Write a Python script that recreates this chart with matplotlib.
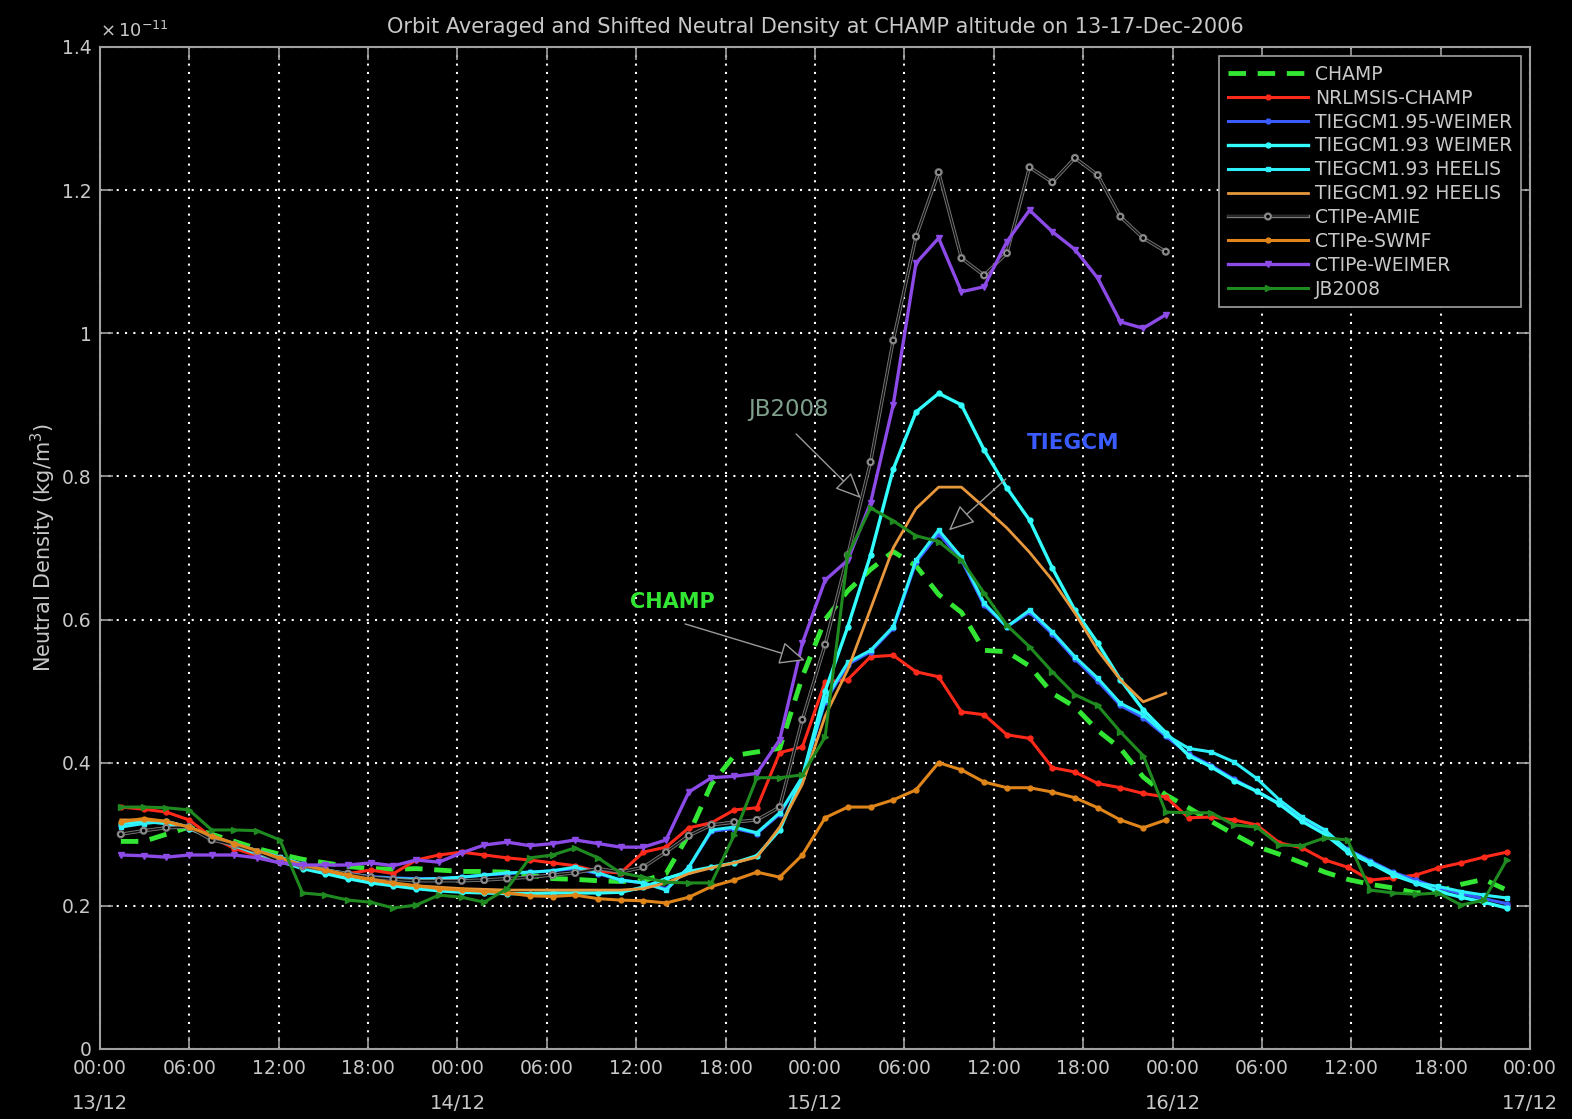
import numpy as np
import matplotlib
matplotlib.use("Agg")
import matplotlib.pyplot as plt
import matplotlib.patheffects as pe
from matplotlib.transforms import blended_transform_factory

# orbit-averaged sample times, hours since 13-Dec-2006 00:00
orbit_hours = [1.40, 2.93, 4.45, 5.98, 7.50, 9.03, 10.55, 12.08, 13.60, 15.13,
               16.65, 18.18, 19.70, 21.23, 22.75, 24.28, 25.80, 27.33, 28.85, 30.38,
               31.90, 33.43, 34.95, 36.48, 38.00, 39.53, 41.05, 42.58, 44.10, 45.63,
               47.15, 48.68, 50.20, 51.73, 53.25, 54.78, 56.30, 57.83, 59.35, 60.88,
               62.40, 63.93, 65.45, 66.98, 68.50, 70.03, 71.55, 73.08, 74.60, 76.13,
               77.65, 79.18, 80.70, 82.23, 83.75, 85.28, 86.80, 88.33, 89.85, 91.38,
               92.90, 94.43]

# neutral density, units of 1e-11 kg/m^3
champ = [0.29, 0.29, 0.30, 0.31, 0.30, 0.29, 0.28, 0.272, 0.265, 0.26,
         0.255, 0.252, 0.251, 0.252, 0.25, 0.248, 0.248, 0.247, 0.243, 0.238,
         0.237, 0.235, 0.234, 0.235, 0.245, 0.30, 0.37, 0.41, 0.415, 0.42,
         0.52, 0.60, 0.64, 0.67, 0.695, 0.675, 0.635, 0.61, 0.557, 0.555,
         0.535, 0.497, 0.478, 0.445, 0.42, 0.38, 0.355, 0.337, 0.318, 0.30,
         0.283, 0.272, 0.26, 0.247, 0.237, 0.23, 0.225, 0.218, 0.22, 0.23,
         0.237, 0.222]
nrlmsis = [0.338, 0.335, 0.331, 0.32, 0.296, 0.28, 0.27, 0.262, 0.255, 0.248,
           0.245, 0.25, 0.245, 0.264, 0.271, 0.275, 0.271, 0.267, 0.264, 0.26,
           0.256, 0.248, 0.246, 0.275, 0.282, 0.309, 0.316, 0.334, 0.337, 0.414,
           0.422, 0.513, 0.516, 0.548, 0.55, 0.527, 0.52, 0.471, 0.467, 0.439,
           0.434, 0.393, 0.387, 0.371, 0.365, 0.357, 0.352, 0.323, 0.324, 0.32,
           0.313, 0.288, 0.281, 0.264, 0.254, 0.236, 0.239, 0.243, 0.253, 0.26,
           0.268, 0.275]
tiegcm195_weimer = [0.312, 0.316, 0.318, 0.31, 0.297, 0.287, 0.277, 0.268, 0.258, 0.25,
                    0.245, 0.241, 0.239, 0.238, 0.238, 0.24, 0.243, 0.245, 0.247, 0.249,
                    0.252, 0.245, 0.236, 0.232, 0.224, 0.254, 0.304, 0.308, 0.301, 0.328,
                    0.38, 0.485, 0.537, 0.555, 0.588, 0.68, 0.72, 0.683, 0.62, 0.59,
                    0.61, 0.58, 0.545, 0.514, 0.48, 0.463, 0.437, 0.412, 0.396, 0.377,
                    0.36, 0.343, 0.32, 0.302, 0.279, 0.263, 0.247, 0.236, 0.225, 0.217,
                    0.21, 0.203]
tiegcm193_weimer = [0.315, 0.318, 0.315, 0.308, 0.295, 0.284, 0.273, 0.262, 0.252, 0.245,
                    0.238, 0.232, 0.228, 0.224, 0.221, 0.219, 0.218, 0.217, 0.217, 0.218,
                    0.218, 0.218, 0.219, 0.226, 0.238, 0.248, 0.254, 0.26, 0.27, 0.306,
                    0.38, 0.50, 0.59, 0.69, 0.81, 0.89, 0.916, 0.90, 0.837, 0.784,
                    0.739, 0.672, 0.613, 0.567, 0.516, 0.474, 0.442, 0.41, 0.394, 0.375,
                    0.36, 0.342, 0.318, 0.30, 0.275, 0.26, 0.243, 0.232, 0.22, 0.212,
                    0.205, 0.197]
tiegcm193_heelis = [0.31, 0.315, 0.318, 0.31, 0.297, 0.287, 0.277, 0.268, 0.258, 0.25,
                    0.245, 0.24, 0.238, 0.237, 0.238, 0.24, 0.243, 0.246, 0.247, 0.249,
                    0.254, 0.246, 0.236, 0.232, 0.222, 0.254, 0.306, 0.31, 0.302, 0.33,
                    0.38, 0.488, 0.54, 0.557, 0.59, 0.683, 0.725, 0.687, 0.623, 0.59,
                    0.613, 0.583, 0.548, 0.518, 0.483, 0.467, 0.439, 0.42, 0.415, 0.401,
                    0.378, 0.348, 0.324, 0.306, 0.278, 0.261, 0.246, 0.232, 0.227, 0.22,
                    0.215, 0.211]
tiegcm192_heelis = [0.32, 0.32, 0.318, 0.308, 0.296, 0.286, 0.276, 0.266, 0.256, 0.249,
                    0.242, 0.236, 0.231, 0.228, 0.226, 0.224, 0.223, 0.222, 0.222, 0.222,
                    0.222, 0.222, 0.222, 0.224, 0.232, 0.245, 0.253, 0.26, 0.268, 0.31,
                    0.37, 0.465, 0.53, 0.615, 0.70, 0.755, 0.785, 0.785, 0.757, 0.728,
                    0.694, 0.655, 0.609, 0.557, 0.516, 0.485, 0.497]
ctipe_amie = [0.30, 0.305, 0.309, 0.31, 0.292, 0.285, 0.275, 0.262, 0.255, 0.25,
              0.245, 0.24, 0.237, 0.235, 0.235, 0.235, 0.236, 0.238, 0.24, 0.243,
              0.246, 0.252, 0.247, 0.254, 0.275, 0.298, 0.313, 0.317, 0.32, 0.338,
              0.46, 0.565, 0.69, 0.82, 0.99, 1.135, 1.225, 1.105, 1.081, 1.112,
              1.232, 1.211, 1.245, 1.221, 1.163, 1.133, 1.114]
ctipe_swmf = [0.317, 0.322, 0.318, 0.31, 0.298, 0.287, 0.277, 0.267, 0.257, 0.25,
              0.243, 0.237, 0.232, 0.228, 0.224, 0.222, 0.22, 0.218, 0.214, 0.213,
              0.215, 0.21, 0.208, 0.207, 0.204, 0.212, 0.227, 0.236, 0.247, 0.24,
              0.271, 0.323, 0.338, 0.338, 0.348, 0.362, 0.40, 0.39, 0.373, 0.365,
              0.365, 0.359, 0.351, 0.337, 0.32, 0.309, 0.32]
ctipe_weimer = [0.271, 0.27, 0.268, 0.271, 0.271, 0.271, 0.267, 0.26, 0.257, 0.257,
                0.257, 0.26, 0.256, 0.264, 0.261, 0.274, 0.285, 0.289, 0.284, 0.287,
                0.292, 0.287, 0.282, 0.282, 0.292, 0.359, 0.379, 0.381, 0.385, 0.432,
                0.567, 0.655, 0.683, 0.763, 0.90, 1.098, 1.133, 1.058, 1.065, 1.128,
                1.172, 1.142, 1.117, 1.077, 1.016, 1.007, 1.026]
jb2008 = [0.338, 0.338, 0.337, 0.334, 0.306, 0.306, 0.305, 0.292, 0.218, 0.215,
          0.208, 0.205, 0.197, 0.201, 0.215, 0.212, 0.205, 0.224, 0.267, 0.271,
          0.281, 0.267, 0.246, 0.24, 0.233, 0.232, 0.232, 0.299, 0.379, 0.379,
          0.383, 0.436, 0.69, 0.756, 0.738, 0.717, 0.709, 0.683, 0.637, 0.592,
          0.562, 0.527, 0.495, 0.48, 0.443, 0.41, 0.331, 0.33, 0.33, 0.313,
          0.31, 0.285, 0.284, 0.295, 0.292, 0.222, 0.218, 0.216, 0.218, 0.201,
          0.208, 0.264]

tick_hours = list(range(0, 97, 6))
tick_labels = ["00:00", "06:00", "12:00", "18:00"] * 4 + ["00:00"]
day_hours = [0, 24, 48, 72, 96]
day_labels = ["13/12", "14/12", "15/12", "16/12", "17/12"]

fg = "#c8c8c8"
edge = "#a0a0a0"

fig = plt.figure(figsize=(15.72, 11.19), dpi=100, facecolor="black")
ax = fig.add_axes([0.0636, 0.0626, 0.9097, 0.8954], facecolor="black")

t = np.array(orbit_hours)
n_ctipe = len(ctipe_amie)

ax.plot(t, champ, color="#33e633", lw=3.5, dashes=(3.6, 2.4), label="CHAMP")
ax.plot(t, nrlmsis, color="#ff2a1a", lw=2.2, marker=".", ms=7, label="NRLMSIS-CHAMP")
ax.plot(t, tiegcm195_weimer, color="#3a5cff", lw=2.2, marker=".", ms=7,
        label="TIEGCM1.95-WEIMER")
ax.plot(t, tiegcm193_weimer, color="#33ffff", lw=2.4, marker=".", ms=7,
        label="TIEGCM1.93 WEIMER")
ax.plot(t, tiegcm193_heelis, color="#2ef0fa", lw=2.2, marker="s", ms=3.5,
        label="TIEGCM1.93 HEELIS")
ax.plot(t[:n_ctipe], tiegcm192_heelis, color="#e8983c", lw=2.0, label="TIEGCM1.92 HEELIS")
ax.plot(t[:n_ctipe], ctipe_amie, color="#111111", lw=1.1, marker="o", ms=3.5,
        mfc="black", mec="#9a9a9a", mew=0.8, label="CTIPe-AMIE",
        path_effects=[pe.Stroke(linewidth=2.4, foreground="#7a7a7a"), pe.Normal()])
ax.plot(t[:n_ctipe], ctipe_swmf, color="#e0851a", lw=2.2, marker=".", ms=7,
        label="CTIPe-SWMF")
ax.plot(t[:n_ctipe], ctipe_weimer, color="#8c4ae6", lw=2.4, marker="v", ms=4,
        label="CTIPe-WEIMER")
ax.plot(t, jb2008, color="#1f8a1f", lw=2.2, marker=">", ms=4, label="JB2008")

ax.set_xlim(0, 96)
ax.set_ylim(0, 1.4)
ax.set_xticks(tick_hours)
ax.set_xticklabels(tick_labels)
ax.set_yticks([0, 0.2, 0.4, 0.6, 0.8, 1.0, 1.2, 1.4])
ax.set_yticklabels(["0", "0.2", "0.4", "0.6", "0.8", "1", "1.2", "1.4"])

ax.grid(True, color="white", lw=1.5, linestyle=(0, (1, 3)))
ax.tick_params(direction="in", top=True, right=True, length=9, width=1.2,
               color=edge, labelcolor=fg, labelsize=13.5)
ax.tick_params(axis="x", pad=7)
ax.tick_params(axis="y", pad=6)
for s in ax.spines.values():
    s.set_color(edge)
    s.set_linewidth(1.5)

trans = blended_transform_factory(ax.transData, ax.transAxes)
for h, lab in zip(day_hours, day_labels):
    ax.text(h, -0.054, lab, transform=trans, ha="center", va="center",
            color=fg, fontsize=14)

ax.set_title("Orbit Averaged and Shifted Neutral Density at CHAMP altitude on 13-17-Dec-2006",
             color=fg, fontsize=15, pad=10)
ax.set_ylabel("Neutral Density (kg/m$^3$)", color=fg, fontsize=15, labelpad=3)
ax.text(0.0, 1.006, r"$\times\,10^{-11}$", transform=ax.transAxes, ha="left",
        va="bottom", color=fg, fontsize=13)

# annotations
arrow_kw = dict(arrowstyle="-|>,head_length=1.0,head_width=0.45", color="#9a9a9a",
                lw=1.0, fc="black", mutation_scale=16)
ax.annotate("", xy=(51.2, 0.767), xytext=(46.6, 0.862), arrowprops=arrow_kw)
ax.text(46.2, 0.893, "JB2008", color="#7fa08c", fontsize=16.5, ha="center", va="center")
ax.annotate("", xy=(47.5, 0.542), xytext=(39.1, 0.595), arrowprops=arrow_kw)
ax.text(38.4, 0.625, "CHAMP", color="#33e633", fontsize=15, fontweight="bold",
        ha="center", va="center")
ax.annotate("", xy=(56.85, 0.722), xytext=(60.95, 0.799), arrowprops=arrow_kw)
ax.text(65.3, 0.847, "TIEGCM", color="#3a5cff", fontsize=15.5, fontweight="bold",
        ha="center", va="center")

leg = ax.legend(loc="upper right", fontsize=13.5, facecolor="black", edgecolor=edge,
                framealpha=1, fancybox=False, handlelength=4.3, handletextpad=0.35,
                labelspacing=0.26, borderaxespad=0.5, borderpad=0.45)
leg.get_frame().set_linewidth(1.2)
for txt in leg.get_texts():
    txt.set_color(fg)

fig.savefig("out.png", dpi=100, facecolor="black")
